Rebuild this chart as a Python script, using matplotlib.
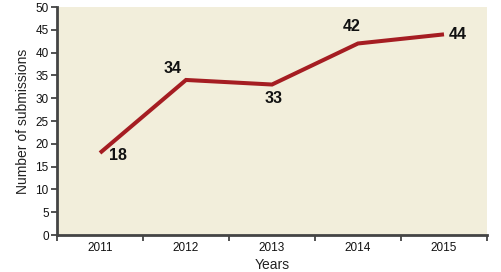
import matplotlib
matplotlib.use("Agg")
import matplotlib.pyplot as plt
from matplotlib import font_manager as fm

years = ["2011", "2012", "2013", "2014", "2015"]
submissions = [18, 34, 33, 42, 44]
label_offsets_px = [(18, -3), (-13, 11), (2, -14), (-6, 17), (14, 0)]

names = {f.name for f in fm.fontManager.ttflist}
cond = "Liberation Sans Narrow" if "Liberation Sans Narrow" in names else "Liberation Sans"

fig = plt.figure(figsize=(5.02, 2.72), dpi=100)
ax = fig.add_axes([57/502, 1-235/272, (487-57)/502, (235-7)/272])
ax.set_facecolor("#F2EEDB")

x = list(range(len(years)))
ax.plot(x, submissions, color="#A51D22", lw=2.9, solid_capstyle="butt", solid_joinstyle="miter")

for xi, v, (dx, dy) in zip(x, submissions, label_offsets_px):
    ax.annotate(str(v), (xi, v), xytext=(dx*0.72, dy*0.72), textcoords="offset points",
                ha="center", va="center", fontsize=11.5, fontweight="bold",
                family=[cond, "DejaVu Sans"], color="#111111")

ax.set_xlim(-0.5, len(years)-0.5)
ax.set_ylim(0, 50)
ax.set_yticks(range(0, 51, 5))
ax.set_xticks([i - 0.5 for i in range(len(years)+1)])
ax.set_xticklabels([])
ax.set_xticks(x, minor=True)
ax.set_xticklabels(years, minor=True)
ax.tick_params(axis="x", which="minor", length=0, pad=5)
ax.tick_params(axis="x", which="major", length=4, width=1.3, color="#444444")
ax.tick_params(axis="y", length=4, width=1.3, color="#444444", pad=2)
for lab in ax.get_xticklabels(minor=True) + ax.get_yticklabels():
    lab.set_family([cond, "DejaVu Sans"])
    lab.set_fontsize(8.5)
    lab.set_color("#111111")

for s in ["top", "right"]:
    ax.spines[s].set_visible(False)
for s in ["left", "bottom"]:
    ax.spines[s].set_color("#444444")
    ax.spines[s].set_linewidth(2)

ax.set_xlabel("Years", fontsize=10, family=["Liberation Sans", "DejaVu Sans"], labelpad=3, color="#222222")
ax.set_ylabel("Number of submissions", fontsize=10, family=["Liberation Sans", "DejaVu Sans"], labelpad=4, color="#222222")

fig.savefig("out.png", dpi=100)
